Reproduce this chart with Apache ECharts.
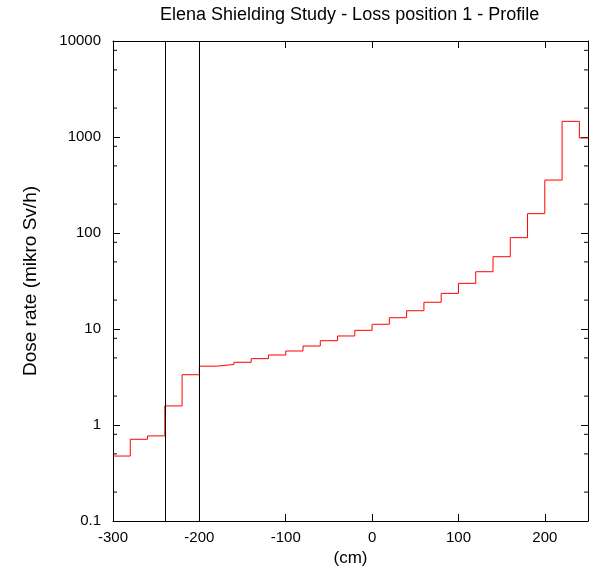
<!DOCTYPE html>
<html>
<head>
<meta charset="utf-8">
<script src="https://cdn.jsdelivr.net/npm/echarts@6/dist/echarts.min.js"></script>
<style>html,body{margin:0;padding:0;background:#fff;}#chart{width:590px;height:573px;}</style>
</head>
<body>
<div id="chart"></div>
<script>
// Bin left edges (cm) and dose rate per bin (mikro Sv/h)
const binEdges = [-300,-280,-260,-240,-220,-200,-180,-160,-140,-120,-100,-80,-60,-40,-20,0,20,40,60,80,100,120,140,160,180,200,220,240];
const doseRate = [0.475,0.71,0.77,1.58,3.34,4.10,4.27,4.50,4.91,5.36,5.90,6.65,7.55,8.46,9.69,11.2,13.1,15.5,19.0,23.5,29.9,39.5,56.6,89.4,159,356,1456,977];
const xEnd = 250;
const markerLines = [-240, -200];
const xMin = -300, xMax = 250, xStep = 100;
const yMin = 0.1, yMax = 10000;
const decades = [0.1, 1, 10, 100, 1000];
const minorFactors = [2, 5, 8];

const stepData = binEdges.map((x, i) => [x, doseRate[i]]);
stepData.push([xEnd, doseRate[doseRate.length - 1]]);

const minorTicks = [];
decades.forEach(d => minorFactors.forEach(f => minorTicks.push([xMin, d * f])));

const FONT = 'Liberation Sans, Arial, sans-serif';
const fmtY = v => String(Number(Number(v).toPrecision(6)));

const chart = echarts.init(document.getElementById('chart'), null, {renderer: 'canvas'});
chart.setOption({
  animation: false,
  backgroundColor: '#fff',
  title: {
    text: 'Elena Shielding Study - Loss position 1 - Profile',
    left: 160, top: 6, padding: 0,
    textStyle: {fontFamily: FONT, fontSize: 18, fontWeight: 'normal', color: '#000'}
  },
  grid: {left: 113, right: 2, top: 41, bottom: 52, containLabel: false},
  xAxis: [{
    type: 'value', min: xMin, max: xMax, interval: xStep,
    name: '(cm)', nameLocation: 'middle', nameGap: 27,
    nameTextStyle: {fontFamily: FONT, fontSize: 17, color: '#000'},
    axisLine: {show: true, onZero: false, lineStyle: {color: '#000', width: 1}},
    axisTick: {show: true, inside: true, length: 7, lineStyle: {color: '#000'}},
    axisLabel: {fontFamily: FONT, fontSize: 15, color: '#000', margin: 9, showMaxLabel: false},
    splitLine: {show: false}
  }, {
    type: 'value', position: 'top', min: xMin, max: xMax, interval: xStep,
    axisLine: {show: true, onZero: false, lineStyle: {color: '#000', width: 1}},
    axisTick: {show: true, inside: true, length: 7, lineStyle: {color: '#000'}},
    axisLabel: {show: false}, splitLine: {show: false}
  }],
  yAxis: [{
    type: 'log', logBase: 10, min: yMin, max: yMax,
    name: 'Dose rate (mikro Sv/h)', nameLocation: 'middle', nameGap: 73,
    nameTextStyle: {fontFamily: FONT, fontSize: 19, color: '#000'},
    axisLine: {show: true, onZero: false, lineStyle: {color: '#000', width: 1}},
    axisTick: {show: true, inside: true, length: 7, lineStyle: {color: '#000'}},
    axisLabel: {fontFamily: FONT, fontSize: 15, color: '#000', margin: 12, formatter: fmtY},
    splitLine: {show: false}
  }, {
    type: 'log', logBase: 10, min: yMin, max: yMax, position: 'right',
    axisLine: {show: true, onZero: false, lineStyle: {color: '#000', width: 1}},
    axisTick: {show: true, inside: true, length: 7, lineStyle: {color: '#000'}},
    axisLabel: {show: false}, splitLine: {show: false}
  }],
  series: [{
    type: 'line', step: 'end', data: stepData, symbol: 'none',
    lineStyle: {color: '#ff0000', width: 1}, itemStyle: {color: '#ff0000'},
    clip: true,
    markLine: {
      silent: true, symbol: ['none', 'none'], animation: false,
      label: {show: false},
      lineStyle: {color: '#000', width: 1, type: 'solid'},
      data: markerLines.map(x => ({xAxis: x}))
    }
  }, {
    type: 'custom', data: minorTicks, silent: true, clip: false,
    renderItem: function (params, api) {
      const v = api.value(1);
      const pL = api.coord([xMin, v]);
      const pR = api.coord([xMax, v]);
      return {
        type: 'group',
        children: [
          {type: 'line', shape: {x1: pL[0], y1: pL[1], x2: pL[0] + 4, y2: pL[1]}, style: {stroke: '#000', lineWidth: 1}},
          {type: 'line', shape: {x1: pR[0], y1: pR[1], x2: pR[0] - 4, y2: pR[1]}, style: {stroke: '#000', lineWidth: 1}}
        ]
      };
    }
  }]
});
</script>
</body>
</html>
